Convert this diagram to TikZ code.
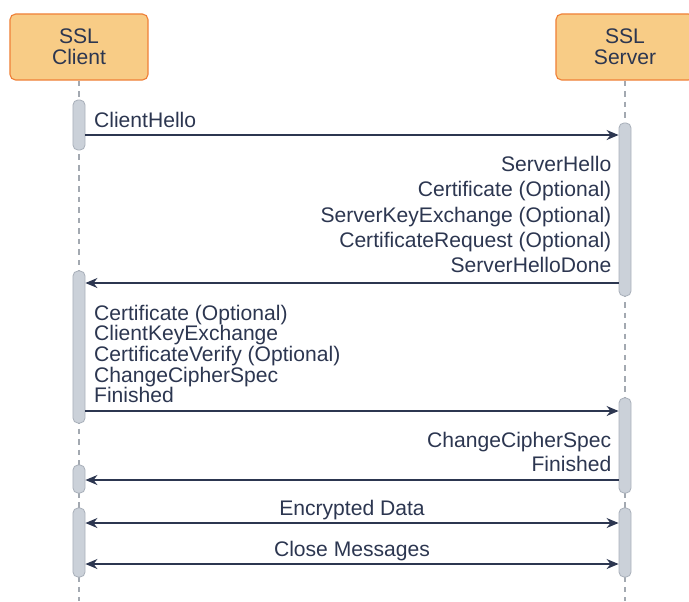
\documentclass[tikz,border=0pt]{standalone}
\usepackage{fontspec}
\setmainfont{Liberation Sans}
\usepackage{xcolor}
\usetikzlibrary{arrows.meta}
\definecolor{ink}{HTML}{2C3650}
\definecolor{roleFill}{HTML}{F8CC86}
\definecolor{roleLine}{HTML}{EF8038}
\definecolor{barFill}{HTML}{CBD1D9}
\definecolor{barLine}{HTML}{AAB1BB}
\definecolor{lifeLine}{HTML}{A3A9B1}
\tikzstyle{role} = [rectangle, rounded corners=4pt, minimum width=3.45cm, minimum height=1.65cm, align=center, draw=roleLine, fill=roleFill, text=ink, font=\fontsize{15}{15}\selectfont, line width=0.8pt]
\tikzstyle{bar} = [rectangle, rounded corners=3.5pt, minimum width=0.3cm, draw=barLine, fill=barFill, line width=0.6pt, inner sep=0pt]
\tikzstyle{life} = [lifeLine, line width=0.8pt, dash pattern=on 4pt off 3.5pt]
\tikzstyle{msg} = [text=ink, font=\fontsize{15}{15}\selectfont, inner xsep=5pt, inner ysep=5pt, text depth=0pt]
\tikzstyle{arrow} = [ink, line width=0.9pt, -{Stealth[length=3mm, width=2.5mm]}]

\begin{document}
\begin{tikzpicture}[x=0.025cm, y=-0.025cm]
    \useasboundingbox (0,0) rectangle (689,601);

    \node (client) [role] at (79,47) {SSL\\Client};
    \node (server) [role] at (625,47) {SSL\\Server};

    \coordinate (clientEnd) at (79,601);
    \coordinate (serverEnd) at (625,601);
    \draw[life] (client) -- (clientEnd);
    \draw[life] (server) -- (serverEnd);

    % activation bars
    \node (cbar1) [bar, minimum height=1.25cm] at (79,125) {};
    \node (cbar2) [bar, minimum height=3.8cm] at (79,347) {};
    \node (cbar3) [bar, minimum height=0.7cm] at (79,479) {};
    \node (cbar4) [bar, minimum height=1.725cm] at (79,542.5) {};

    \node (sbar1) [bar, minimum height=4.325cm] at (625,209.5) {};
    \node (sbar2) [bar, minimum height=2.375cm] at (625,445.5) {};
    \node (sbar3) [bar, minimum height=1.725cm] at (625,542.5) {};

    % message levels
    \coordinate (yHello) at (0,135);
    \coordinate (yServerDone) at (0,283);
    \coordinate (yClientDone) at (0,411);
    \coordinate (yServerFin) at (0,480);
    \coordinate (yData) at (0,523);
    \coordinate (yClose) at (0,564);

    \node (hello) [msg, anchor=south west, xshift=1pt] at (cbar1.east |- yHello) {ClientHello};
    \draw[arrow] (cbar1.east |- yHello) -- (sbar1.west |- yHello);

    \node (srvmsg) [msg, anchor=south east, align=right, font=\fontsize{15}{18}\selectfont, yshift=2pt] at (sbar1.west |- yServerDone) {ServerHello\\Certificate (Optional)\\ServerKeyExchange (Optional)\\CertificateRequest (Optional)\\ServerHelloDone};
    \draw[arrow] (sbar1.west |- yServerDone) -- (cbar2.east |- yServerDone);

    \node (climsg) [msg, anchor=south west, align=left, font=\fontsize{15}{14.7}\selectfont, xshift=1pt, yshift=0.5pt] at (cbar2.east |- yClientDone) {Certificate (Optional)\\ClientKeyExchange\\CertificateVerify (Optional)\\ChangeCipherSpec\\Finished};
    \draw[arrow] (cbar2.east |- yClientDone) -- (sbar2.west |- yClientDone);

    \node (srvfin) [msg, anchor=south east, align=right, font=\fontsize{15}{17.7}\selectfont, yshift=0.5pt] at (sbar2.west |- yServerFin) {ChangeCipherSpec\\Finished};
    \draw[arrow] (sbar2.west |- yServerFin) -- (cbar3.east |- yServerFin);

    \draw[arrow, {Stealth[length=3mm, width=2.5mm]}-{Stealth[length=3mm, width=2.5mm]}] (cbar4.east |- yData) -- node[msg, anchor=south] (data) {Encrypted Data} (sbar3.west |- yData);
    \draw[arrow, {Stealth[length=3mm, width=2.5mm]}-{Stealth[length=3mm, width=2.5mm]}] (cbar4.east |- yClose) -- node[msg, anchor=south] (close) {Close Messages} (sbar3.west |- yClose);

\end{tikzpicture}
\end{document}
